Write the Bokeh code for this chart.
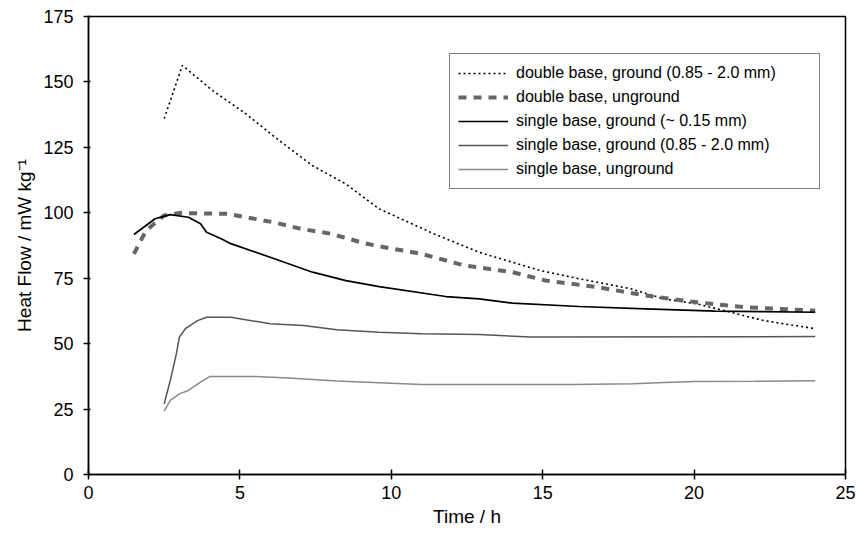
from bokeh.plotting import figure
from bokeh.models import Range1d, Legend, LegendItem
from bokeh.embed import file_html
from bokeh.resources import INLINE

# double base, ground (0.85 - 2.0 mm)
db_ground_t = [2.5, 3.1, 4.1, 5.2, 6.3, 7.4, 8.5, 9.6, 11.4, 12.9, 14.9, 16.2, 17.9, 19.0, 20.1, 21.2, 22.3, 24.0]
db_ground_y = [136, 156.3, 146.7, 137.8, 127.6, 118, 111, 101.5, 92, 84.9, 78, 74.8, 71, 67.1, 65.2, 62, 58.8, 55.7]

# double base, unground
db_unground_t = [1.5, 1.9, 2.5, 3.0, 4.6, 6.1, 7.0, 8.0, 9.1, 9.6, 11.0, 12.4, 14.0, 15.1, 16.8, 18.4, 20.1, 21.7, 24.0]
db_unground_y = [84.3, 93.2, 99, 99.9, 99.6, 96.4, 93.9, 92, 88.4, 87.2, 84.3, 79.9, 77.3, 74.1, 71.6, 68.4, 65.8, 63.9, 62.6]

# single base, ground (~ 0.15 mm)
sb_fine_t = [1.5, 2.2, 2.7, 3.3, 3.7, 3.9, 4.4, 4.7, 6.0, 7.4, 8.5, 9.6, 11.8, 12.9, 14.0, 16.2, 18.4, 20.7, 24.0]
sb_fine_y = [91.7, 97.7, 99.3, 98.3, 95.8, 92.6, 90, 88.2, 83, 77.3, 74.1, 71.8, 68, 67.1, 65.5, 64.2, 63.3, 62.4, 62]

# single base, ground (0.85 - 2.0 mm)
sb_coarse_t = [2.5, 2.7, 2.9, 3.0, 3.2, 3.6, 3.9, 4.7, 6.0, 7.1, 8.2, 9.6, 11.0, 12.9, 14.6, 24.0]
sb_coarse_y = [27, 35.9, 46, 52.5, 55.7, 58.8, 60.1, 60.1, 57.6, 56.9, 55.3, 54.4, 53.8, 53.5, 52.5, 52.7]

# single base, unground
sb_unground_t = [2.5, 2.7, 3.0, 3.3, 3.7, 4.0, 5.5, 6.6, 8.2, 11.0, 14.0, 16.0, 18.0, 19.0, 20.0, 22.0, 24.0]
sb_unground_y = [24.2, 28.3, 30.8, 32.1, 35.3, 37.4, 37.4, 36.9, 35.7, 34.4, 34.4, 34.4, 34.7, 35.2, 35.5, 35.6, 35.8]

labels = [
    "double base, ground (0.85 - 2.0 mm)",
    "double base, unground",
    "single base, ground (~ 0.15 mm)",
    "single base, ground (0.85 - 2.0 mm)",
    "single base, unground",
]
x_ticks = [0, 5, 10, 15, 20, 25]
y_ticks = [0, 25, 50, 75, 100, 125, 150, 175]

FONT = "Liberation Sans"

p = figure(width=858, height=534, output_backend="svg", toolbar_location=None,
           x_range=Range1d(0, 25), y_range=Range1d(0, 175),
           min_border_left=88, min_border_right=13, min_border_top=16, min_border_bottom=60)
p.background_fill_color = "white"
p.border_fill_color = "white"
p.outline_line_color = "black"
p.outline_line_width = 1.5
p.xgrid.visible = False
p.ygrid.visible = False

for ax in (p.xaxis, p.yaxis):
    ax.axis_line_color = "black"
    ax.axis_line_width = 1.5
    ax.major_tick_line_color = "black"
    ax.major_tick_line_width = 1.5
    ax.minor_tick_line_color = None
    ax.major_label_text_font = FONT
    ax.major_label_text_font_size = "18px"
    ax.major_label_text_color = "black"
    ax.axis_label_text_font = FONT
    ax.axis_label_text_font_size = "19px"
    ax.axis_label_text_font_style = "normal"
    ax.axis_label_text_color = "black"

p.xaxis.ticker = x_ticks
p.yaxis.ticker = y_ticks
p.xaxis.major_tick_in = 5
p.xaxis.major_tick_out = 5
p.yaxis.major_tick_in = 2
p.yaxis.major_tick_out = 5
p.xaxis.major_label_standoff = 6
p.yaxis.major_label_standoff = 10
p.xaxis.axis_label = "Time / h"
p.yaxis.axis_label = "Heat Flow / mW kg\u207b\u00b9"
p.xaxis.axis_label_standoff = 4
p.yaxis.axis_label_standoff = 5

r1 = p.line(db_ground_t, db_ground_y, line_color="black", line_width=1.6, line_dash="2 3")
r2 = p.line(db_unground_t, db_unground_y, line_color="#666666", line_width=4, line_dash="8 7")
r3 = p.line(sb_fine_t, sb_fine_y, line_color="black", line_width=1.7)
r4 = p.line(sb_coarse_t, sb_coarse_y, line_color="#555555", line_width=1.5)
r5 = p.line(sb_unground_t, sb_unground_y, line_color="#8a8a8a", line_width=1.5)

legend = Legend(items=[LegendItem(label=l, renderers=[r]) for l, r in zip(labels, [r1, r2, r3, r4, r5])],
                location=(361, 285))
legend.border_line_color = "black"
legend.border_line_width = 1.5
legend.background_fill_color = "white"
legend.background_fill_alpha = 1
legend.padding = 8
legend.spacing = 2
legend.glyph_width = 50
legend.glyph_height = 22
legend.label_height = 22
legend.label_width = 295
legend.label_standoff = 8
legend.label_text_font = FONT
legend.label_text_font_size = "16px"
legend.label_text_color = "black"
legend.margin = 0
p.add_layout(legend, "center")

open("out.html", "w").write(file_html(p, INLINE))
